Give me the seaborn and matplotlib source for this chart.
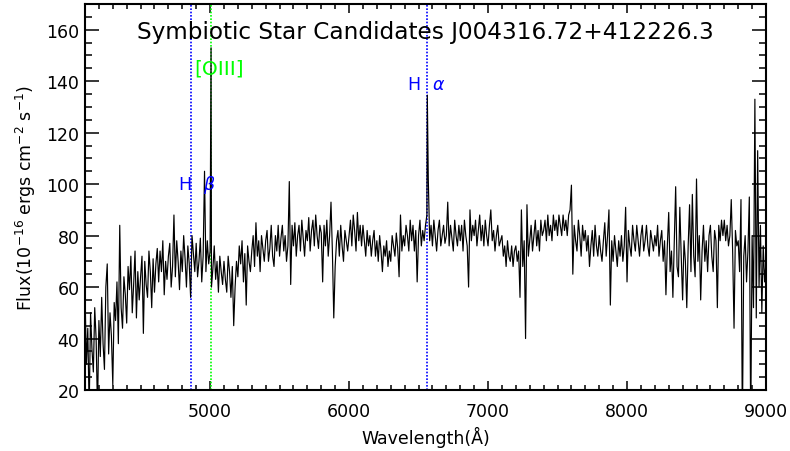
import numpy as np
import pandas as pd
import matplotlib
matplotlib.use("Agg")
import matplotlib.pyplot as plt
import seaborn as sns

# ---- data ----
wave_start, wave_step = 4100, 10
flux = [
    58, 30, 44, 12, 50, 36, 27, 52, 40, 12,      # 4100
    47, 33, 56, 38, 28, 60, 69, 34, 50, 41,      # 4200
    22, 54, 47, 62, 38, 84, 52, 44, 64, 57,      # 4300
    46, 68, 59, 72, 50, 61, 74, 48, 66, 55,      # 4400
    64, 72, 42, 70, 61, 56, 74, 66, 52, 71,      # 4500
    58, 69, 75, 62, 74, 66, 78, 57, 70, 63,      # 4600
    72, 77, 60, 68, 88, 64, 78, 70, 59, 74,      # 4700
    66, 80, 71, 60, 76, 69, 56, 80, 73, 66,      # 4800
    77, 64, 70, 79, 62, 72, 105, 66, 78, 69,     # 4900
    74, 60, 67, 76, 63, 70, 58, 72, 66, 61,      # 5000
    70, 63, 58, 72, 66, 56, 68, 45, 60, 70,      # 5100
    64, 76, 69, 78, 62, 73, 53, 76, 70, 66,      # 5200
    74, 80, 68, 85, 72, 78, 66, 80, 75, 70,      # 5300
    78, 82, 70, 75, 84, 72, 68, 80, 74, 84,      # 5400
    72, 79, 84, 74, 80, 70, 76, 101, 61, 84,     # 5500
    76, 85, 72, 80, 84, 74, 86, 79, 72, 82,      # 5600
    78, 87, 74, 82, 86, 76, 88, 80, 75, 84,      # 5700
    81, 62, 84, 76, 86, 72, 80, 93, 74, 48,      # 5800
    68, 78, 82, 72, 84, 76, 70, 82, 78, 74,      # 5900
    80, 86, 76, 88, 82, 74, 89, 78, 84, 76,      # 6000
    84, 78, 72, 82, 76, 80, 72, 78, 82, 72,      # 6100
    78, 70, 80, 74, 66, 76, 72, 78, 68, 74,      # 6200
    70, 80, 76, 72, 81, 75, 64, 88, 74, 80,      # 6300
    76, 84, 80, 74, 86, 78, 84, 74, 82, 62,      # 6400
    80, 86, 76, 82, 78, 84, 88, 102, 78, 84,     # 6500
    76, 86, 80, 74, 82, 86, 76, 80, 84, 77,      # 6600
    80, 93, 76, 84, 79, 74, 86, 80, 76, 84,      # 6700
    78, 84, 74, 86, 80, 76, 60, 90, 78, 84,      # 6800
    80, 86, 76, 82, 88, 78, 84, 76, 86, 80,      # 6900
    76, 84, 90, 78, 82, 74, 80, 84, 76, 78,      # 7000
    80, 72, 76, 68, 78, 72, 70, 76, 68, 74,      # 7100
    76, 70, 74, 56, 90, 68, 78, 40, 92, 72,      # 7200
    78, 84, 74, 80, 86, 76, 82, 74, 86, 80,      # 7300
    82, 86, 78, 88, 80, 84, 78, 88, 82, 86,      # 7400
    80, 88, 84, 80, 88, 82, 86, 80, 88, 90,      # 7500
    99.6, 65, 84, 78, 74, 86, 80, 72, 84, 78,    # 7600
    82, 74, 80, 68, 76, 82, 72, 84, 76, 72,      # 7700
    80, 74, 70, 78, 85, 72, 80, 90, 53, 78,      # 7800
    70, 80, 74, 68, 78, 72, 80, 70, 76, 91,      # 7900
    62, 82, 76, 72, 84, 78, 74, 84, 78, 72,      # 8000
    80, 84, 74, 78, 84, 76, 72, 82, 78, 74,      # 8100
    80, 76, 84, 72, 78, 82, 70, 78, 57, 76,      # 8200
    89, 66, 74, 56, 78, 99, 68, 64, 91, 72,      # 8300
    55, 78, 70, 52, 76, 92, 66, 96, 72, 64,      # 8400
    102, 70, 80, 55, 74, 84, 70, 78, 66, 80,     # 8500
    84, 72, 66, 82, 78, 52, 84, 78, 86, 80,      # 8600
    86, 78, 84, 76, 80, 94, 74, 44, 82, 76,      # 8700
    78, 66, 94, 5, 72, 80, 62, 74, 95, 5,        # 8800
    80, 52, 133, 48, 113, 60, 84, 50, 76, 62,    # 8900
    70,                                          # 9000
]
line_wave = [5007, 6563]          # strong emission peaks
line_flux = [153, 134.6]

mark_hb, mark_o3, mark_ha = 4861, 5007, 6563
title = "Symbiotic Star Candidates J004316.72+412226.3"
xticks = [5000, 6000, 7000, 8000, 9000]
yticks = [20, 40, 60, 80, 100, 120, 140, 160]

wave = wave_start + wave_step * np.arange(len(flux))
df = pd.DataFrame({"wave": np.concatenate([wave, line_wave]),
                   "flux": np.concatenate([flux, line_flux])}).sort_values("wave")

sns.set_style("ticks")
plt.rcParams["font.family"] = ["DejaVu Sans"]
for k in ["text.color", "axes.labelcolor", "xtick.color", "ytick.color",
          "axes.edgecolor", "xtick.labelcolor", "ytick.labelcolor"]:
    plt.rcParams[k] = "black"

fig = plt.figure(figsize=(7.9, 4.52), dpi=100)
ax = fig.add_axes([85/790, 1-391/452, (766-85)/790, (391-5)/452])

ax.axvline(mark_hb, color="#0000ff", ls=(0, (1, 1)), lw=1.2, zorder=1)
ax.axvline(mark_ha, color="#0000ff", ls=(0, (1, 1)), lw=1.2, zorder=1)
ax.axvline(mark_o3, color="#00ff00", ls=(0, (1, 1)), lw=1.2, zorder=1)

sns.lineplot(data=df, x="wave", y="flux", color="black", lw=0.85,
             estimator=None, ax=ax, zorder=2)

ax.set_xlim(4100, 9000)
ax.set_ylim(20, 170)
ax.set_xticks(xticks)
ax.set_yticks(yticks)
ax.xaxis.set_minor_locator(matplotlib.ticker.MultipleLocator(100))
ax.yaxis.set_minor_locator(matplotlib.ticker.MultipleLocator(5))
ax.tick_params(which="both", direction="in", top=True, right=True,
               width=1.1, labelsize=12.5, colors="black")
ax.tick_params(axis="y", which="major", length=10, pad=4)
ax.tick_params(axis="y", which="minor", length=5)
ax.tick_params(axis="x", which="major", length=6.5, pad=9)
ax.tick_params(axis="x", which="minor", length=3.5)
for s in ax.spines.values():
    s.set_linewidth(1.5)
    s.set_color("black")

ax.set_xlabel("Wavelength(Å)", fontsize=12.5, labelpad=4)
ax.set_ylabel("Flux(10$^{-16}$ ergs cm$^{-2}$ s$^{-1}$)", fontsize=12.5, labelpad=6)

ax.text((4100 + 9000) / 2, 159.5, title, fontsize=16.7, ha="center", va="center")

ax.text(4862, 100, "H", color="#0000ff", fontsize=12.5, ha="right", va="center")
ax.text(4950, 100, "β", color="#0000ff", fontsize=12.5, ha="left", va="center", style="italic")
ax.text(6510, 138.8, "H", color="#0000ff", fontsize=12.5, ha="right", va="center")
ax.text(6600, 138.8, "α", color="#0000ff", fontsize=12.5, ha="left", va="center", style="italic")
ax.text(5068, 145, "[OIII]", color="#00ff00", fontsize=14.5, ha="center", va="center")

fig.savefig("out.png", dpi=100)
